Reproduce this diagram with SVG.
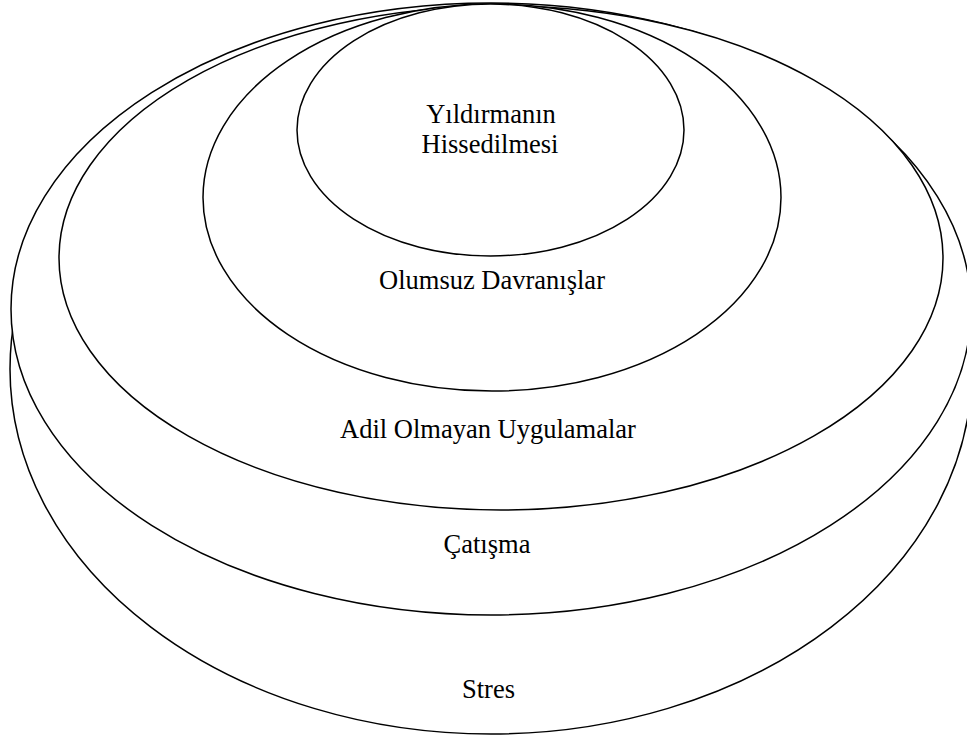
<svg xmlns="http://www.w3.org/2000/svg" width="967" height="738" viewBox="0 0 967 738">
<style>
.ring{fill:#fff;stroke:#000;stroke-width:1.5}
.lbl{font-family:"Liberation Serif","Times New Roman",serif;font-size:26.5px;fill:#000;text-anchor:middle}
</style>
<rect width="967" height="738" fill="#fff"/>
<g id="stres">
<ellipse class="ring" cx="491" cy="369" rx="481" ry="365"/>
<text class="lbl" x="488.5" y="698">Stres</text>
</g>
<g id="catisma">
<ellipse class="ring" cx="491" cy="309" rx="480" ry="306"/>
<text class="lbl" x="487" y="553">Çatışma</text>
</g>
<g id="adil">
<ellipse class="ring" cx="501" cy="258" rx="442" ry="252"/>
<text class="lbl" x="488" y="438">Adil Olmayan Uygulamalar</text>
</g>
<g id="olumsuz">
<ellipse class="ring" cx="492" cy="197.5" rx="289" ry="193.5"/>
<text class="lbl" x="492" y="289">Olumsuz Davranışlar</text>
</g>
<g id="yildirma">
<ellipse class="ring" cx="490.5" cy="130" rx="193.5" ry="126"/>
<text class="lbl" x="491" y="123">Yıldırmanın</text>
<text class="lbl" x="490" y="153">Hissedilmesi</text>
</g>
<g id="connectors"/>
</svg>
